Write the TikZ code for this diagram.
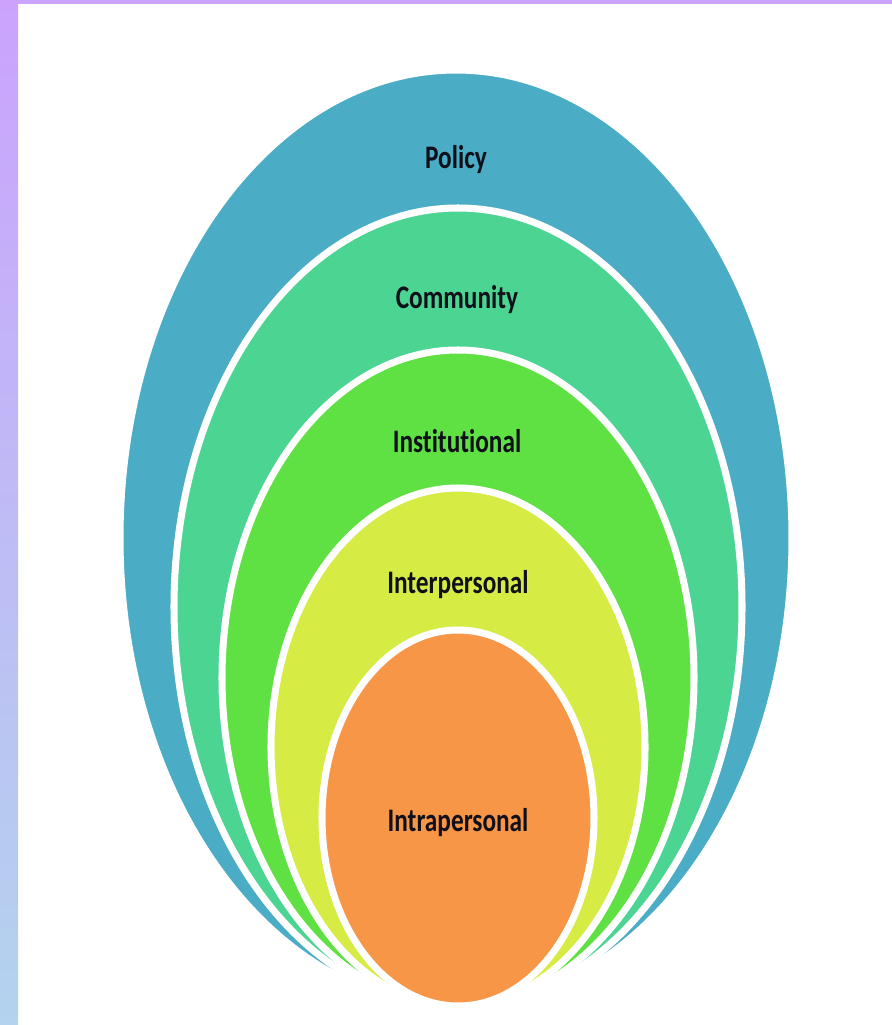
\documentclass[tikz,border=0pt]{standalone}
\usepackage{fontspec}
\setmainfont{Carlito}[Ligatures=NoCommon]
\definecolor{policycol}{HTML}{4BACC6}
\definecolor{communitycol}{HTML}{4CD493}
\definecolor{institutioncol}{HTML}{5FE043}
\definecolor{interpersonalcol}{HTML}{D7EB45}
\definecolor{intrapersonalcol}{HTML}{F79646}
\definecolor{bartop}{HTML}{CBA3FD}
\definecolor{barbot}{HTML}{B3D3EE}
\definecolor{labelcol}{HTML}{10101A}

\begin{document}
\begin{tikzpicture}[x=0.02cm,y=-0.02cm,
  layer/.style={fill=#1, draw=white, line width=4pt},
  lbl/.style={font=\bfseries\fontsize{14.4}{16}\selectfont, text=labelcol}]
\fill[white] (0,0) rectangle (892,1025);
\shade[top color=bartop, bottom color=barbot] (0,0) rectangle (18,1025);
\fill[bartop] (0,0) rectangle (892,4);
% nested layers, outermost first
\draw[layer=policycol] (456,538) ellipse [x radius=336, y radius=468];
\draw[layer=communitycol] (458,607) ellipse [x radius=284, y radius=399];
\draw[layer=institutioncol] (458,678) ellipse [x radius=236, y radius=328];
\draw[layer=interpersonalcol] (458,747) ellipse [x radius=187, y radius=259];
\draw[layer=intrapersonalcol] (458,818) ellipse [x radius=136, y radius=188];
\node[lbl] (policy) at (456,160) {\scalebox{1}[1.3]{Policy}};
\node[lbl] (community) at (457,300) {\scalebox{1}[1.3]{Community}};
\node[lbl] (institutional) at (457,441) {\scalebox{1}[1.3]{Institutional}};
\node[lbl] (interpersonal) at (458,585) {\scalebox{1}[1.3]{Interpersonal}};
\node[lbl] (intrapersonal) at (458,823) {\scalebox{1}[1.3]{Intrapersonal}};
\end{tikzpicture}
\end{document}
